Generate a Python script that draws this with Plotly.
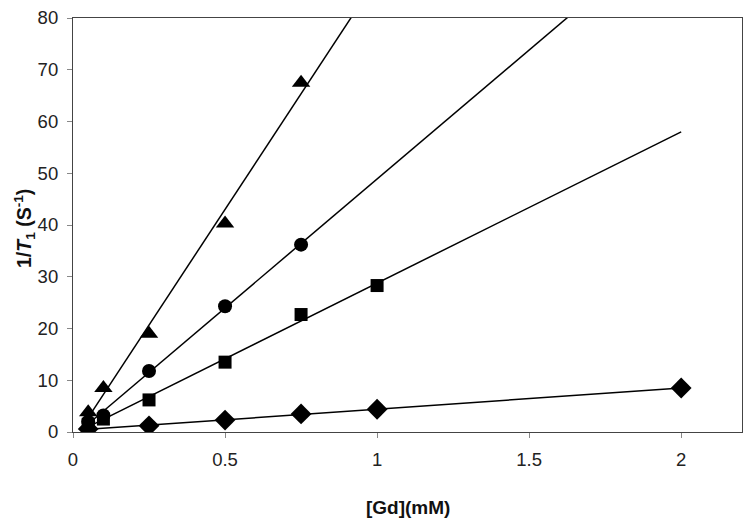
import numpy as np
import plotly.graph_objects as go

# Data
x_diamond = [0.05, 0.25, 0.5, 0.75, 1.0, 2.0]
y_diamond = [0.6, 1.2, 2.3, 3.5, 4.4, 8.5]

x_square = [0.05, 0.1, 0.25, 0.5, 0.75, 1.0]
y_square = [1.5, 2.5, 6.2, 13.5, 22.7, 28.3]

x_circle = [0.05, 0.1, 0.25, 0.5, 0.75]
y_circle = [2.0, 3.2, 11.8, 24.3, 36.2]

x_triangle = [0.05, 0.1, 0.25, 0.5, 0.75]
y_triangle = [3.8, 8.5, 19.0, 40.3, 67.5]

x_ticks = [0, 0.5, 1, 1.5, 2]
x_tick_text = ["0", "0.5", "1", "1.5", "2"]
y_ticks = [0, 10, 20, 30, 40, 50, 60, 70, 80]

trend_x = [0.05, 2.0]

series = [
    (x_diamond, y_diamond, "diamond", 16),
    (x_square, y_square, "square", 13),
    (x_circle, y_circle, "circle", 14),
    (x_triangle, y_triangle, "triangle-up", 16),
]

fig = go.Figure()
for xs, ys, sym, size in series:
    slope, intercept = np.polyfit(xs, ys, 1)
    tx = np.array(trend_x)
    fig.add_trace(go.Scatter(x=tx, y=slope * tx + intercept, mode="lines",
                             line=dict(color="black", width=1.5),
                             showlegend=False, hoverinfo="skip"))
for xs, ys, sym, size in series:
    fig.add_trace(go.Scatter(x=xs, y=ys, mode="markers",
                             marker=dict(symbol=sym, size=size, color="black"),
                             showlegend=False))

axis_common = dict(
    showgrid=False, zeroline=False, showline=True, linecolor="#444",
    linewidth=1.2, mirror=True, ticks="outside", ticklen=5,
    tickcolor="#888", tickwidth=1, ticklabeloverflow="allow", automargin=False,
    tickfont=dict(family="Liberation Sans, Arial, sans-serif", size=18.5, color="#222"),
)

fig.update_xaxes(range=[0, 2.2], tickvals=x_ticks, ticktext=x_tick_text,
                 ticklabelstandoff=6, **axis_common)
fig.update_yaxes(range=[0, 80], tickvals=y_ticks, ticklabelstandoff=5, **axis_common)

# The page body has an 8px default margin; figure size/margins compensate for it.
fig.update_layout(
    width=743, height=517,
    margin=dict(l=65, r=9, t=10, b=93, autoexpand=False),
    plot_bgcolor="white", paper_bgcolor="white",
    annotations=[
        dict(text="<b>[Gd](mM)</b>", xref="paper", yref="paper", x=0.5, y=0,
             xanchor="center", yanchor="middle", yshift=-75, showarrow=False,
             font=dict(family="Liberation Sans, Arial, sans-serif", size=19, color="#111")),
        dict(text="<b>1/<i>T</i><sub>1</sub> (S<sup>-1</sup>)</b>", xref="paper", yref="paper",
             x=0, y=0.5, xanchor="center", yanchor="middle", xshift=-49, yshift=-4,
             textangle=-90, showarrow=False,
             font=dict(family="Liberation Sans, Arial, sans-serif", size=19.5, color="#111")),
    ],
)

fig.write_html("out.html")
